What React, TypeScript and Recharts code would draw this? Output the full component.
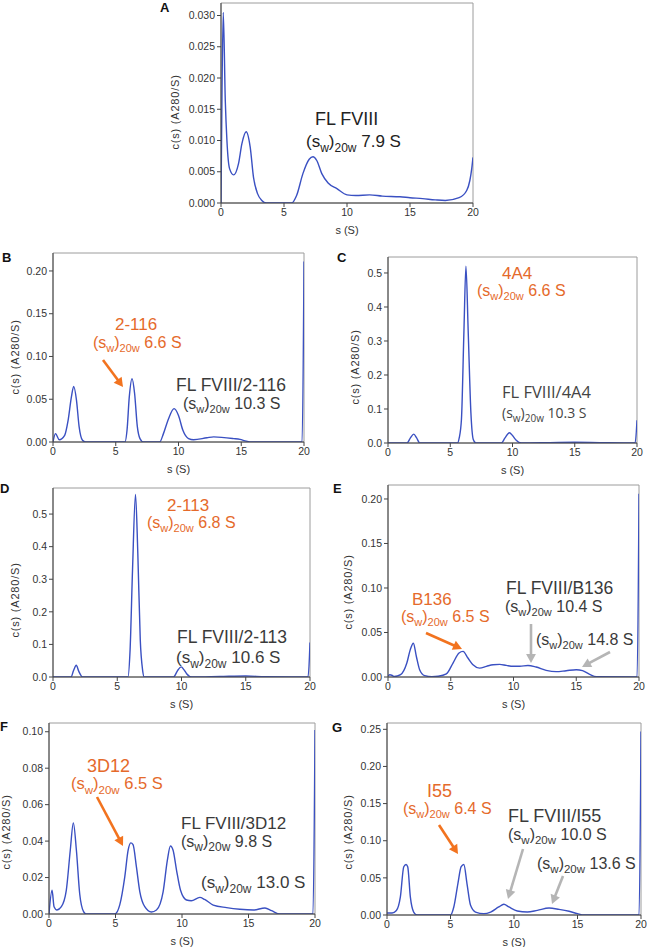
import React from 'react';
import { LineChart, Line, XAxis, YAxis, ReferenceArea } from 'recharts';

// ---------- data (s in Svedberg, c(s) in A280/S) ----------
const sA = [0, 0.08, 0.18, 0.34, 0.47, 0.68, 1.0, 1.39, 1.66, 2.0, 2.32, 2.58, 2.9, 3.24, 3.6, 5.6, 6.0, 6.5, 7.0, 7.3, 7.6, 8.0, 8.5, 9.2, 10.0, 10.7, 11.8, 12.8, 14.2, 15.0, 16.0, 17.0, 17.8, 18.9, 19.5, 19.75, 19.9, 20];
const cA = [0, 0.018, 0.0305, 0.0164, 0.010, 0.0055, 0.0045, 0.0063, 0.0095, 0.0114, 0.0089, 0.0041, 0.0015, 0.0004, 0, 0, 0.0012, 0.0047, 0.0070, 0.0074, 0.0068, 0.0047, 0.0032, 0.0023, 0.0013, 0.0012, 0.0013, 0.0011, 0.001, 0.00085, 0.0007, 0.0005, 0.0004, 0.00085, 0.002, 0.0036, 0.0055, 0.0073];

const sB = [0, 0.2, 0.5, 0.93, 1.2, 1.47, 1.65, 1.87, 2.08, 2.35, 2.6, 5.73, 5.9, 6.08, 6.3, 6.5, 6.72, 6.93, 7.2, 8.5, 8.8, 9.2, 9.65, 10.0, 10.35, 10.8, 11.2, 12.27, 12.8, 14.4, 14.9, 15.4, 15.8, 19.85, 20];
const cB = [0, 0.0098, 0.0027, 0.0078, 0.025, 0.053, 0.065, 0.049, 0.018, 0.002, 0, 0, 0.014, 0.053, 0.074, 0.057, 0.018, 0.004, 0, 0, 0.0098, 0.027, 0.039, 0.031, 0.0137, 0.004, 0.0027, 0.005, 0.006, 0.004, 0.003, 0.001, 0, 0, 0.211];

const sC = [0, 1.53, 1.8, 2.07, 2.3, 2.55, 5.58, 5.72, 5.9, 6.1, 6.26, 6.44, 6.66, 6.85, 7.06, 9.1, 9.4, 9.75, 10.0, 10.3, 10.7, 13.0, 15.0, 17.0, 19.85, 20];
const cC = [0, 0, 0.015, 0.026, 0.015, 0, 0, 0.015, 0.07, 0.33, 0.52, 0.33, 0.088, 0.01, 0, 0, 0.015, 0.030, 0.022, 0.008, 0, 0.001, 0.002, 0.001, 0, 0.067];

const sD = [0, 1.4, 1.6, 1.81, 2.0, 2.3, 5.83, 6.0, 6.19, 6.42, 6.6, 6.79, 6.97, 7.1, 9.38, 9.7, 9.97, 10.2, 10.4, 10.8, 13.0, 15.0, 16.5, 19.85, 20];
const cD = [0, 0, 0.02, 0.036, 0.018, 0, 0, 0.084, 0.33, 0.56, 0.38, 0.115, 0.022, 0, 0, 0.02, 0.031, 0.022, 0.01, 0, 0.0015, 0.003, 0.001, 0, 0.106];

const sE = [0, 0.15, 0.3, 0.5, 1.0, 1.5, 1.78, 2.02, 2.26, 2.52, 2.92, 3.5, 4.0, 4.65, 5.18, 5.66, 5.98, 6.37, 6.77, 7.3, 7.84, 8.37, 8.9, 9.43, 9.96, 10.5, 11.15, 11.8, 12.6, 13.4, 14.2, 15.0, 15.5, 16.07, 16.6, 19.85, 20];
const cE = [0.001, 0.0025, 0.002, 0.0005, 0.0026, 0.0157, 0.031, 0.038, 0.023, 0.0082, 0.0015, 0.0003, 0.0008, 0.0034, 0.0157, 0.027, 0.0288, 0.0213, 0.0138, 0.010, 0.012, 0.0138, 0.0142, 0.013, 0.012, 0.012, 0.013, 0.0112, 0.0075, 0.006, 0.0071, 0.0082, 0.0071, 0.003, 0.0004, 0, 0.206];

const sF = [0, 0.23, 0.38, 0.6, 0.93, 1.3, 1.6, 1.83, 2.06, 2.31, 2.6, 2.8, 4.94, 5.32, 5.7, 5.95, 6.15, 6.32, 6.57, 6.83, 7.2, 7.7, 8.08, 8.58, 8.9, 9.13, 9.33, 9.59, 9.89, 10.34, 10.7, 11.34, 11.7, 12.35, 13.35, 14.35, 15.36, 16.24, 16.74, 17.36, 19.85, 20];
const cF = [0, 0.013, 0.004, 0.0022, 0.004, 0.013, 0.035, 0.050, 0.035, 0.011, 0.0013, 0, 0, 0.005, 0.0205, 0.035, 0.039, 0.038, 0.026, 0.0122, 0.004, 0.0011, 0.0022, 0.0122, 0.0296, 0.0373, 0.035, 0.024, 0.013, 0.0077, 0.0073, 0.0091, 0.008, 0.0049, 0.0035, 0.0026, 0.0022, 0.0033, 0.0018, 0, 0, 0.101];

const sG = [0, 0.4, 0.74, 1.05, 1.32, 1.5, 1.63, 1.84, 2.1, 2.37, 5.0, 5.26, 5.58, 5.84, 6.05, 6.3, 6.58, 6.97, 7.63, 8.16, 8.8, 9.2, 9.6, 10.26, 11.05, 11.84, 12.76, 13.55, 14.34, 15.0, 15.5, 19.85, 20];
const cG = [0.0027, 0.0027, 0.006, 0.024, 0.065, 0.068, 0.065, 0.024, 0.004, 0, 0, 0.0108, 0.042, 0.065, 0.068, 0.042, 0.013, 0.004, 0.0018, 0.004, 0.0108, 0.0144, 0.0108, 0.0054, 0.004, 0.0063, 0.0094, 0.0076, 0.005, 0.0018, 0, 0, 0.247];

// tick labels
const xTicks = [0, 5, 10, 15, 20];
const yTicksA = [0, 0.005, 0.01, 0.015, 0.02, 0.025, 0.03];
const yTicksB = [0, 0.05, 0.1, 0.15, 0.2];
const yTicksC = [0, 0.1, 0.2, 0.3, 0.4, 0.5];
const yTicksD = [0, 0.1, 0.2, 0.3, 0.4, 0.5];
const yTicksE = [0, 0.05, 0.1, 0.15, 0.2];
const yTicksF = [0, 0.02, 0.04, 0.06, 0.08, 0.1];
const yTicksG = [0, 0.05, 0.1, 0.15, 0.2, 0.25];

const FONT = '"Liberation Sans", Arial, sans-serif';
const BLUE = '#3a50c2';
const ORANGE = '#e56a2b';
const DARK = '#333333';
const ARROW_OR = '#f2731f';
const ARROW_GR = '#b5b5b5';

type Layout = { PL: number; PR: number; PT: number; PB: number; ylabX: number; ylabY: number };

function Panel(props: { s: number[]; c: number[]; L: Layout; yMax: number; yTicks: number[]; dec: number }) {
  const { s, c, L, yMax, yTicks, dec } = props;
  const data = s.map((v, i) => ({ s: v, c: c[i] }));
  const mt = 3, mr = 12, xh = 34;
  const left = L.ylabX - 7;
  const yw = L.PL - left;
  const width = yw + (L.PR - L.PL) + mr;
  const height = mt + (L.PB - L.PT) + xh;
  const dyLab = L.ylabY - (L.PT + L.PB) / 2;
  const tickStyle = { fontSize: 10.5, fill: DARK, fontFamily: FONT };
  return (
    <div style={{ position: 'absolute', left, top: L.PT - mt }}>
      <LineChart width={width} height={height} data={data} margin={{ top: mt, right: mr, bottom: 0, left: 0 }}>
        <ReferenceArea x1={0} x2={20} y1={0} y2={yMax} fill="none" fillOpacity={0} stroke="#9c9c9c" strokeWidth={1} ifOverflow="visible" />
        <XAxis
          dataKey="s"
          type="number"
          domain={[0, 20]}
          ticks={xTicks}
          interval={0}
          allowDataOverflow
          height={xh}
          tickSize={4}
          tick={tickStyle}
          axisLine={{ stroke: '#444' }}
          tickLine={{ stroke: '#444' }}
          label={{ value: 's (S)', position: 'insideBottom', offset: 3, style: { fontSize: 11, fill: DARK, fontFamily: FONT } }}
        />
        <YAxis
          type="number"
          domain={[0, yMax]}
          ticks={yTicks}
          interval={0}
          allowDataOverflow
          width={yw}
          tickSize={4}
          tick={tickStyle}
          tickFormatter={(v: number) => v.toFixed(dec)}
          axisLine={{ stroke: '#444' }}
          tickLine={{ stroke: '#444' }}
          label={{
            value: 'c(s) (A280/S)',
            angle: -90,
            position: 'insideLeft',
            offset: 7,
            dy: dyLab,
            style: { textAnchor: 'middle', fontSize: 11, fill: DARK, fontFamily: FONT, letterSpacing: 0.8 },
          }}
        />
        <Line dataKey="c" type="monotone" stroke={BLUE} strokeWidth={1.4} dot={false} isAnimationActive={false} />
      </LineChart>
    </div>
  );
}

function Sw(props: { x: number; y: number; v: string; size: number; sub: number; color: string; family?: string }) {
  const { x, y, v, size, sub, color, family } = props;
  const d = size * 0.28;
  return (
    <text x={x} y={y} fontSize={size} fill={color} fontFamily={family || FONT} style={{ whiteSpace: 'pre' }}>
      (s<tspan fontSize={sub} dy={d}>w</tspan>
      <tspan dy={-d}>)</tspan>
      <tspan fontSize={sub} dy={d}>20w</tspan>
      <tspan dy={-d}>{' ' + v}</tspan>
    </text>
  );
}

function T(props: { x: number; y: number; t: string; size: number; color: string; family?: string; bold?: boolean }) {
  const { x, y, t, size, color, family, bold } = props;
  return (
    <text x={x} y={y} fontSize={size} fill={color} fontFamily={family || FONT} fontWeight={bold ? 'bold' : 'normal'}>
      {t}
    </text>
  );
}

function Arrow(props: { x1: number; y1: number; x2: number; y2: number; color: string; w?: number; head?: number }) {
  const { x1, y1, x2, y2, color } = props;
  const w = props.w || 2.6;
  const head = props.head || 9;
  const dx = x2 - x1, dy = y2 - y1;
  const len = Math.hypot(dx, dy);
  const ux = dx / len, uy = dy / len;
  const bx = x2 - ux * head, by = y2 - uy * head;
  const px = -uy, py = ux;
  const hw = head * 0.55;
  return (
    <g>
      <line x1={x1} y1={y1} x2={bx + ux} y2={by + uy} stroke={color} strokeWidth={w} />
      <polygon points={`${x2},${y2} ${bx + px * hw},${by + py * hw} ${bx - px * hw},${by - py * hw}`} fill={color} />
    </g>
  );
}

const LA: Layout = { PL: 221, PR: 473, PT: 3, PB: 203, ylabX: 175, ylabY: 112 };
const LB: Layout = { PL: 53, PR: 304, PT: 253, PB: 442, ylabX: 15, ylabY: 357 };
const LC: Layout = { PL: 388, PR: 637, PT: 257, PB: 443, ylabX: 355, ylabY: 367 };
const LD: Layout = { PL: 53, PR: 310, PT: 488, PB: 677, ylabX: 15, ylabY: 600 };
const LE: Layout = { PL: 388, PR: 639, PT: 485, PB: 677, ylabX: 348, ylabY: 592 };
const LF: Layout = { PL: 49, PR: 315, PT: 723, PB: 914, ylabX: 6, ylabY: 832 };
const LG: Layout = { PL: 387, PR: 641, PT: 723, PB: 915, ylabX: 348, ylabY: 832 };

export default function App() {
  const OS = '"Open Sans", sans-serif';
  return (
    <div style={{ position: 'absolute', left: 0, top: 0, width: 647, height: 947, background: '#fff', overflow: 'hidden' }}>
      <Panel s={sA} c={cA} L={LA} yMax={0.032} yTicks={yTicksA} dec={3} />
      <Panel s={sB} c={cB} L={LB} yMax={0.221} yTicks={yTicksB} dec={2} />
      <Panel s={sC} c={cC} L={LC} yMax={0.547} yTicks={yTicksC} dec={1} />
      <Panel s={sD} c={cD} L={LD} yMax={0.58} yTicks={yTicksD} dec={1} />
      <Panel s={sE} c={cE} L={LE} yMax={0.2157} yTicks={yTicksE} dec={2} />
      <Panel s={sF} c={cF} L={LF} yMax={0.1048} yTicks={yTicksF} dec={2} />
      <Panel s={sG} c={cG} L={LG} yMax={0.2585} yTicks={yTicksG} dec={2} />
      <svg width={647} height={947} style={{ position: 'absolute', left: 0, top: 0, pointerEvents: 'none' }}>
        {/* panel letters */}
        <T x={160} y={12} t="A" size={13} color="#111" bold />
        <T x={2} y={262} t="B" size={13} color="#111" bold />
        <T x={337} y={262} t="C" size={13} color="#111" bold />
        <T x={0} y={493} t="D" size={13} color="#111" bold />
        <T x={333} y={493} t="E" size={13} color="#111" bold />
        <T x={0} y={731} t="F" size={13} color="#111" bold />
        <T x={332} y={732} t="G" size={13} color="#111" bold />

        {/* A */}
        <T x={315} y={125} t="FL FVIII" size={18} color="#222" />
        <Sw x={306} y={147} v="7.9 S" size={17} sub={12} color="#222" />

        {/* B */}
        <T x={115} y={330} t="2-116" size={17} color={ORANGE} />
        <Sw x={93} y={348} v="6.6 S" size={16} sub={11} color={ORANGE} />
        <Arrow x1={103} y1={360} x2={123} y2={387} color={ARROW_OR} />
        <T x={176} y={391} t="FL FVIII/2-116" size={17.5} color="#3a3a3a" />
        <Sw x={183} y={409} v="10.3 S" size={16} sub={11} color="#3a3a3a" />

        {/* C */}
        <T x={502} y={279} t="4A4" size={17} color={ORANGE} />
        <Sw x={477} y={296} v="6.6 S" size={16} sub={11} color={ORANGE} />
        <T x={502} y={398} t="FL FVIII/4A4" size={16.5} color="#444" family={OS} />
        <Sw x={502} y={418} v="10.3 S" size={14} sub={10} color="#444" family={OS} />

        {/* D */}
        <T x={167} y={511} t="2-113" size={17} color={ORANGE} />
        <Sw x={147} y={528} v="6.8 S" size={16} sub={11} color={ORANGE} />
        <T x={177} y={643} t="FL FVIII/2-113" size={17.5} color="#3a3a3a" />
        <Sw x={176} y={663} v="10.6 S" size={17} sub={12} color="#3a3a3a" />

        {/* E */}
        <T x={412} y={605} t="B136" size={17} color={ORANGE} />
        <Sw x={401} y={622} v="6.5 S" size={16} sub={11} color={ORANGE} />
        <Arrow x1={426} y1={633} x2={462} y2={649} color={ARROW_OR} />
        <T x={506} y={594} t="FL FVIII/B136" size={17.5} color="#3a3a3a" />
        <Sw x={505} y={612} v="10.4 S" size={16} sub={11} color="#3a3a3a" />
        <Arrow x1={531} y1={624} x2={531} y2={663} color={ARROW_GR} />
        <Sw x={536} y={645} v="14.8 S" size={16} sub={11} color="#3a3a3a" />
        <Arrow x1={610} y1={652} x2={582} y2={667} color={ARROW_GR} />

        {/* F */}
        <T x={87} y={772} t="3D12" size={18} color={ORANGE} />
        <Sw x={71} y={789} v="6.5 S" size={16.5} sub={11.5} color={ORANGE} />
        <Arrow x1={97} y1={797} x2={123} y2={846} color={ARROW_OR} />
        <T x={181} y={829} t="FL FVIII/3D12" size={17} color="#3a3a3a" />
        <Sw x={181} y={847} v="9.8 S" size={16} sub={12} color="#3a3a3a" />
        <Sw x={201} y={888} v="13.0 S" size={17} sub={12} color="#3a3a3a" />

        {/* G */}
        <T x={427} y={797} t="I55" size={18} color={ORANGE} />
        <Sw x={403} y={814} v="6.4 S" size={16} sub={11} color={ORANGE} />
        <Arrow x1={439} y1={825} x2={458} y2={854} color={ARROW_OR} />
        <T x={508} y={822} t="FL FVIII/I55" size={18} color="#3a3a3a" />
        <Sw x={508} y={840} v="10.0 S" size={16} sub={11.5} color="#3a3a3a" />
        <Arrow x1={523} y1={849} x2={508} y2={899} color={ARROW_GR} />
        <Sw x={537} y={869} v="13.6 S" size={16} sub={11.5} color="#3a3a3a" />
        <Arrow x1={563} y1={876} x2={552} y2={904} color={ARROW_GR} />
      </svg>
    </div>
  );
}
